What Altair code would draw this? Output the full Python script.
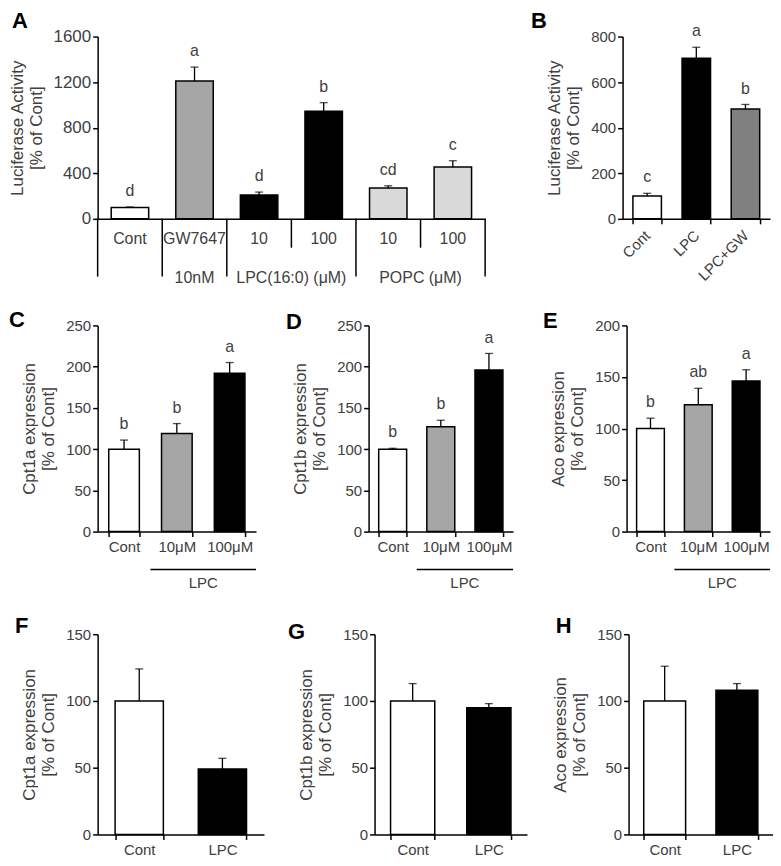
import altair as alt
import pandas as pd

FONT = "Liberation Sans"
TXT = "#404040"
WHITE, LGRAY, MGRAY, DGRAY, BLACK = "#ffffff", "#d9d9d9", "#a6a6a6", "#808080", "#000000"

# ---------------- Panel A ----------------
a_cats = ["Cont", "GW7647", "LPC 10", "LPC 100", "POPC 10", "POPC 100"]
a_row1 = ["Cont", "GW7647", "10", "100", "10", "100"]
a_vals = [100, 1210, 210, 945, 270, 455]
a_errs = [4, 122, 25, 75, 20, 55]
a_letters = ["d", "a", "d", "b", "cd", "c"]
a_fills = [WHITE, MGRAY, BLACK, BLACK, LGRAY, LGRAY]
a_groups = ["10nM", "LPC(16:0) (μM)", "POPC  (μM)"]
a_group_start = [1, 2, 4]
a_group_end = [2, 4, 6]
a_sep_long = [0, 1, 2, 4, 6]
a_sep_short = [3, 5]

# ---------------- Panel B ----------------
b_cats = ["Cont", "LPC", "LPC+GW"]
b_vals = [100, 705, 482]
b_errs = [12, 48, 20]
b_letters = ["c", "a", "b"]
b_fills = [WHITE, BLACK, DGRAY]

# ---------------- Panels C, D, E ----------------
cde_cats = ["Cont", "10μM", "100μM"]
cde_fills = [WHITE, MGRAY, BLACK]
c_vals = [100, 119, 192]
c_errs = [11, 12, 13]
c_letters = ["b", "b", "a"]
d_vals = [100, 127, 196]
d_errs = [1, 8, 20]
d_letters = ["b", "b", "a"]
e_vals = [100, 123, 146]
e_errs = [10, 16, 11]
e_letters = ["b", "ab", "a"]
lpc_span = [1, 3]

# ---------------- Panels F, G, H ----------------
fgh_cats = ["Cont", "LPC"]
fgh_fills = [WHITE, BLACK]
f_vals = [100, 49]
f_errs = [24, 8]
g_vals = [100, 95]
g_errs = [13, 3]
h_vals = [100, 108]
h_errs = [26, 5]

panel_tags = ["A", "B", "C", "D", "E", "F", "G", "H"]


def panel(cats, vals, errs, letters, fills, ymax, ystep, w, h, ytitle, tag,
          tag_pos=(-86, -16), show_x=True, label_angle=0, fs=15, tfs=17,
          lpad=3, extras=None, inner_extra=None):
    df = pd.DataFrame({
        "cat": cats,
        "val": vals,
        "top": [v + e for v, e in zip(vals, errs)],
        "letter": letters if letters else [""] * len(cats),
        "fill": fills,
    })
    if show_x:
        if label_angle:
            ax = alt.Axis(title=None, tickBand="extent", labelAngle=label_angle,
                          labelAlign="right", labelBaseline="middle",
                          labelFontSize=fs, labelPadding=lpad)
        else:
            ax = alt.Axis(title=None, tickBand="extent", labelAngle=0,
                          labelFontSize=fs, labelPadding=lpad)
    else:
        ax = alt.Axis(title=None, labels=False, ticks=False)
    xsc = alt.Scale(paddingInner=0.42, paddingOuter=0.21)
    x = alt.X("cat:N", sort=cats, scale=xsc, axis=ax)
    ysc = alt.Scale(domain=[0, ymax], nice=False)
    yax = alt.Axis(values=list(range(0, ymax + 1, ystep)), title=ytitle,
                   format="d", labelFontSize=fs, titleFontSize=tfs,
                   titlePadding=8)
    base = alt.Chart(df)
    tag_df = pd.DataFrame({"tag": [tag]})
    layers = [
        base.mark_bar(stroke="black", strokeWidth=1.5).encode(
            x=x, y=alt.Y("val:Q", scale=ysc, axis=yax),
            fill=alt.Fill("fill:N", scale=None)),
        base.mark_rule(color="black", strokeWidth=1.3).encode(
            x=x, y=alt.Y("val:Q", scale=ysc, axis=yax), y2="top:Q"),
        base.mark_tick(color="black", thickness=1.3, size=8).encode(
            x=x, y=alt.Y("top:Q", scale=ysc, axis=yax)),
        base.mark_text(baseline="bottom", dy=-8, fontSize=16, font=FONT,
                       color=TXT).encode(
            x=x, y=alt.Y("top:Q", scale=ysc, axis=yax), text="letter:N"),
        alt.Chart(tag_df).mark_text(align="left", baseline="middle",
                                    fontSize=22, fontWeight="bold", font=FONT,
                                    color="black").encode(
            x=alt.value(tag_pos[0]), y=alt.value(tag_pos[1]), text="tag:N"),
    ]
    if inner_extra is not None:
        layers += inner_extra(df, x, h)
    inner = alt.layer(*layers)
    if extras is not None:
        ch = alt.layer(inner, *extras(h)).resolve_scale(x="independent")
    else:
        ch = inner
    return ch.properties(width=w, height=h)


# --- A extras ---
def a_inner(df, x, h):
    d = df.assign(lab=a_row1)
    return [alt.Chart(d).mark_text(fontSize=16, font=FONT, color=TXT,
                                   baseline="middle").encode(
        x=x, y=alt.value(h + 20), text="lab:N")]


def a_extras(h):
    n = len(a_cats)
    qx = alt.Scale(domain=[0, n], nice=False, zero=False)
    long_df = pd.DataFrame({"pos": a_sep_long})
    short_df = pd.DataFrame({"pos": a_sep_short})
    grp_df = pd.DataFrame({"g": a_groups,
                           "mid": [(s + e) / 2 for s, e in zip(a_group_start, a_group_end)]})
    return [
        alt.Chart(long_df).mark_rule(color="black", strokeWidth=1.5).encode(
            x=alt.X("pos:Q", scale=qx, axis=None),
            y=alt.value(h), y2=alt.value(h + 58)),
        alt.Chart(short_df).mark_rule(color="black", strokeWidth=1.5).encode(
            x=alt.X("pos:Q", scale=qx, axis=None),
            y=alt.value(h), y2=alt.value(h + 29)),
        alt.Chart(grp_df).mark_text(fontSize=16, font=FONT, color=TXT,
                                    baseline="middle").encode(
            x=alt.X("mid:Q", scale=qx, axis=None),
            y=alt.value(h + 59), text="g:N"),
    ]


def lpc_extras(h):
    qx = alt.Scale(domain=[0, len(cde_cats)], nice=False, zero=False)
    d = pd.DataFrame({"s": [lpc_span[0]], "e": [lpc_span[1]],
                      "mid": [(lpc_span[0] + lpc_span[1]) / 2], "t": ["LPC"]})
    return [
        alt.Chart(d).mark_rule(color="black", strokeWidth=1.5).encode(
            x=alt.X("s:Q", scale=qx, axis=None), x2="e:Q",
            y=alt.value(h + 38)),
        alt.Chart(d).mark_text(fontSize=15, font=FONT, color=TXT,
                               baseline="middle").encode(
            x=alt.X("mid:Q", scale=qx, axis=None),
            y=alt.value(h + 52), text="t:N"),
    ]


ylab_luc = ["Luciferase Activity", "[% of Cont]"]

A = panel(a_cats, a_vals, a_errs, a_letters, a_fills, 1600, 400, 389, 183,
          ylab_luc, panel_tags[0], tag_pos=(-86, -16), show_x=False, fs=17,
          extras=a_extras, inner_extra=a_inner)
B = panel(b_cats, b_vals, b_errs, b_letters, b_fills, 800, 200, 148, 183,
          ylab_luc, panel_tags[1], tag_pos=(-92, -16), label_angle=-45,
          fs=15, lpad=9)

C = panel(cde_cats, c_vals, c_errs, c_letters, cde_fills, 250, 50, 159, 207,
          ["Cpt1a expression", "[% of Cont]"], panel_tags[2],
          tag_pos=(-89, -5), extras=lpc_extras)
D = panel(cde_cats, d_vals, d_errs, d_letters, cde_fills, 250, 50, 145, 207,
          ["Cpt1b expression", "[% of Cont]"], panel_tags[3],
          tag_pos=(-83, -3), extras=lpc_extras)
E = panel(cde_cats, e_vals, e_errs, e_letters, cde_fills, 200, 50, 144, 207,
          ["Aco expression", "[% of Cont]"], panel_tags[4],
          tag_pos=(-84, -4), extras=lpc_extras)

F = panel(fgh_cats, f_vals, f_errs, None, fgh_fills, 150, 50, 167, 201,
          ["Cpt1a expression", "[% of Cont]"], panel_tags[5], tag_pos=(-83, -8))
G = panel(fgh_cats, g_vals, g_errs, None, fgh_fills, 150, 50, 153, 201,
          ["Cpt1b expression", "[% of Cont]"], panel_tags[6], tag_pos=(-87, -2))
H = panel(fgh_cats, h_vals, h_errs, None, fgh_fills, 150, 50, 145, 201,
          ["Aco expression", "[% of Cont]"], panel_tags[7], tag_pos=(-73, -8))

row1 = alt.hconcat(A, B, spacing=45)
row2 = alt.hconcat(C, D, E, spacing=29)
row3 = alt.hconcat(F, G, H, spacing=24)

chart = alt.vconcat(row1, row2, row3, spacing=24).properties(
    padding={"left": 0, "top": 0, "right": 0, "bottom": 0}
).configure_view(stroke=None).configure_axis(
    domainColor="black", domainWidth=1.5, tickColor="black", tickWidth=1.5,
    tickSize=5, grid=False, labelColor=TXT, titleColor=TXT,
    labelFont=FONT, titleFont=FONT, titleFontWeight="normal",
).configure_text(font=FONT)

chart.save("out.html", embed_options={"renderer": "svg", "actions": False})
